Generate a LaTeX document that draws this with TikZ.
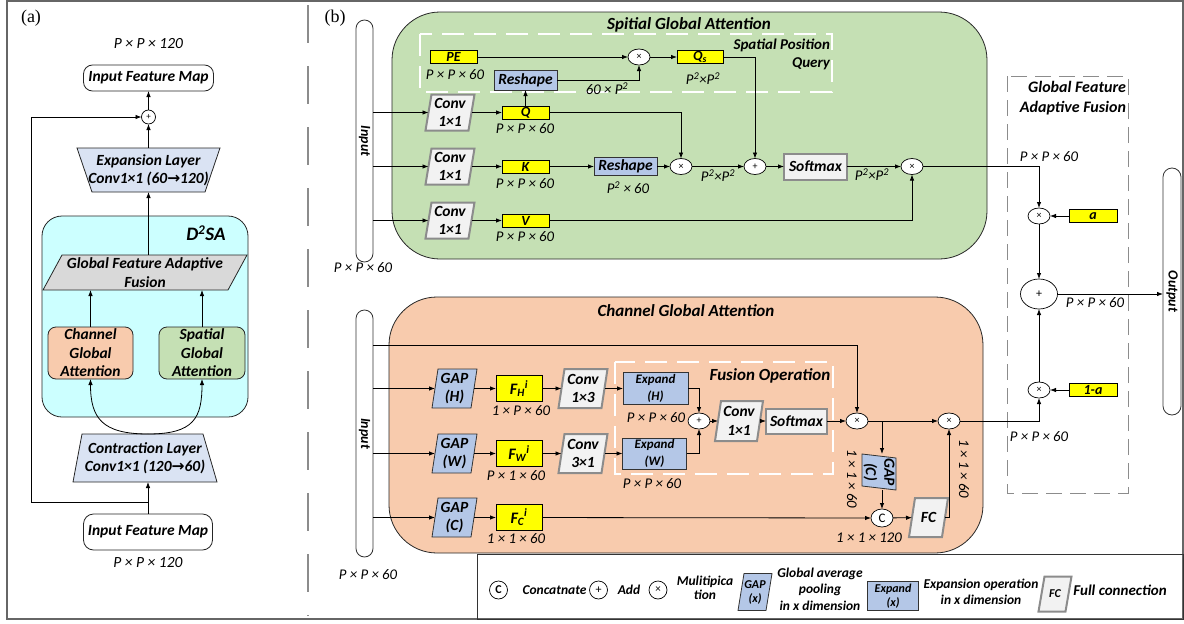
\documentclass[tikz,border=0pt]{standalone}
\usepackage{fontspec}
\setmainfont{Carlito}
\newfontfamily\tagfont{Liberation Serif}
\newfontfamily\arrowfont{DejaVu Sans}
\usetikzlibrary{arrows.meta,shapes.geometric}

\definecolor{sgagreen}{HTML}{C5E0B4}
\definecolor{cgaorange}{HTML}{F8CBAD}
\definecolor{opblue}{HTML}{B4C7E7}
\definecolor{dsacyan}{HTML}{CCFFFF}
\definecolor{layerblue}{HTML}{DAE3F3}
\definecolor{convgray}{HTML}{F2F2F2}
\definecolor{fusegray}{HTML}{D9D9D9}
\definecolor{rimgray}{HTML}{8C8C8C}
\definecolor{featyellow}{HTML}{FFFF00}

\newcommand{\ra}{{\arrowfont\bfseries →}}
\newcommand{\sq}{\textsuperscript{2}}

% slanted box: name, cx, cy, w, h, outline style, text style, text
\newcommand{\slantbox}[8]{%
  \draw[#6] ({#2-#4/2+3},{#3-#5/2}) -- ({#2+#4/2+3},{#3-#5/2})
     -- ({#2+#4/2-3},{#3+#5/2}) -- ({#2-#4/2-3},{#3+#5/2}) -- cycle;
  \node[#7, minimum width=#4pt, minimum height=#5pt] (#1) at (#2,#3) {#8};}

\tikzset{
  every node/.style={inner sep=0pt, outer sep=0pt},
  arr/.style={-{Latex[length=6pt,width=4.5pt]}, line width=0.8pt},
  dimlbl/.style={font=\fontsize{14.8}{15}\selectfont\itshape},
  boxtxt/.style={font=\fontsize{15.5}{18.5}\selectfont\bfseries\itshape, align=center},
  smalltxt/.style={font=\fontsize{13}{17}\selectfont\bfseries\itshape, align=center},
  titletxt/.style={font=\fontsize{17}{20}\selectfont\bfseries\itshape},
  legtxt/.style={font=\fontsize{13.5}{16.5}\selectfont\bfseries\itshape, align=center},
  legsmall/.style={font=\fontsize{12}{14}\selectfont\bfseries\itshape, align=center},
  featbox/.style={draw=black, fill=featyellow, line width=0.7pt, minimum width=47pt,
    minimum height=13pt, font=\fontsize{14}{14}\selectfont\bfseries\itshape},
  opbox/.style={draw=black!80, fill=opblue, line width=0.8pt, align=center},
  convline/.style={draw=rimgray, fill=convgray, line width=2pt},
  gapline/.style={draw=black!80, fill=opblue, line width=0.8pt},
  opnode/.style={draw=black, fill=white, ellipse, line width=0.7pt, minimum width=22pt,
    minimum height=16pt, font=\fontsize{10}{10}\selectfont},
  pill/.style={draw=black!80, fill=white, rounded corners=8.5pt, line width=0.8pt},
  softbox/.style={draw=rimgray, fill=convgray, line width=2pt,
    font=\fontsize{15.5}{17}\selectfont\bfseries\itshape},
  region/.style={draw=black!85, line width=0.8pt, rounded corners=48pt},
  whitedash/.style={white, line width=1.5pt, dash pattern=on 22pt off 10pt},
}

\begin{document}
\begin{tikzpicture}[x=1pt,y=-1pt]
\useasboundingbox (0,0) rectangle (1184,624);
% outer frame and panel separator
\draw[black!60, line width=1.5pt] (7,1) rectangle (1183,619);
\draw[black!45, line width=2pt, dash pattern=on 38pt off 23pt] (308,5) -- (308,616);
\node[font=\tagfont\fontsize{18}{18}\selectfont] (taga) at (31,18) {(a)};
\node[font=\tagfont\fontsize{18}{18}\selectfont] (tagb) at (335,18) {(b)};

% ================= panel (a) =================
\draw[fill=dsacyan, draw=black!85, line width=0.8pt, rounded corners=20pt] (42,216) rectangle (248,417);
\node[font=\fontsize{19}{20}\selectfont\bfseries\itshape] (dsa) at (206,233) {D\textsuperscript{2}SA};

\node[dimlbl, font=\fontsize{15.5}{16}\selectfont\itshape] (dimtop) at (148.5,44) {P × P × 120};
\node[draw=black!85, fill=white, rounded corners=9pt, line width=0.8pt, minimum width=130pt,
  minimum height=26pt, boxtxt] (ifmtop) at (148.5,78) {Input Feature Map};
\node[opnode, minimum width=14pt, minimum height=14pt, font=\fontsize{9}{9}\selectfont] (addtop) at (148.5,117) {+};

\draw[fill=layerblue, draw=black!85, line width=0.8pt] (77,148) -- (220,148) -- (205,192) -- (92,192) -- cycle;
\node[boxtxt, minimum width=128pt, minimum height=44pt] (expl) at (148.5,170) {Expansion Layer\\Conv1×1 (60\ra120)};

\draw[fill=fusegray, draw=black!85, line width=0.8pt] (62,255) -- (247,255) -- (228,290) -- (43,290) -- cycle;
\node[boxtxt, minimum width=166pt, minimum height=35pt] (gfaf) at (145,272.5) {Global Feature Adaptive\\Fusion};

\node[draw=black!85, fill=cgaorange, rounded corners=8pt, line width=0.8pt, minimum width=85pt,
  minimum height=52pt, boxtxt] (cgaA) at (90.5,353) {Channel\\Global\\Attention};
\node[draw=black!85, fill=sgagreen, rounded corners=8pt, line width=0.8pt, minimum width=86pt,
  minimum height=52pt, boxtxt] (sgaA) at (202,353) {Spatial\\Global\\Attention};

\draw[fill=layerblue, draw=black!85, line width=0.8pt] (82,434) -- (203,434) -- (217,482) -- (73,482) -- cycle;
\node[boxtxt, minimum width=121pt, minimum height=48pt] (ctrl) at (145,458) {Contraction Layer\\Conv1×1 (120\ra60)};

\node[draw=black!85, fill=white, rounded corners=10pt, line width=0.8pt, minimum width=129pt,
  minimum height=36pt, boxtxt] (ifmbot) at (148,532) {Input Feature Map};
\node[dimlbl, font=\fontsize{15.5}{16}\selectfont\itshape] (dimbot) at (148,563) {P × P × 120};

\coordinate (split) at (148,434);
\coordinate (skipfrom) at (148,502);
\coordinate (skipcorner) at (31,502);
\draw[arr] (ifmbot.north) -- (ifmbot.north |- ctrl.south);
\draw[arr] (skipfrom) -- (skipcorner) |- (addtop);
\draw[arr] (split) .. controls (102,434) and (90.5,418) .. (cgaA.south);
\draw[arr] (split) .. controls (194,434) and (202,418) .. (sgaA.south);
\draw[arr] (cgaA.north) -- (cgaA.north |- gfaf.south);
\draw[arr] (sgaA.north) -- (sgaA.north |- gfaf.south);
\draw[arr] (expl.south |- gfaf.north) -- (expl.south);
\draw[arr] (expl.north) -- (addtop);
\draw[arr] (addtop) -- (ifmtop);

% ================= panel (b) : spatial global attention =================
\draw[region, fill=sgagreen] (392,12) rectangle (987,259);
\draw[whitedash] (420,34) rectangle (832,92);
\node[titletxt] (sgatitle) at (689,25) {Spitial Global Attention};
\node[titletxt, font=\fontsize{15}{18}\selectfont\bfseries\itshape, align=right, anchor=north east] (spq) at (830,39) {Spatial Position\\Query};

\node[pill, minimum width=17pt, minimum height=242pt] (inTop) at (364.5,141) {};
\node[boxtxt, font=\fontsize{14}{14}\selectfont\bfseries\itshape, rotate=-90] (inTopTxt) at (364.5,141) {Input};
\node[dimlbl] (inTopDim) at (363,268) {P × P × 60};

\slantbox{cvq}{450}{112.5}{43}{36}{convline}{boxtxt}{Conv\\1×1}
\slantbox{cvk}{450}{166.5}{43}{36}{convline}{boxtxt}{Conv\\1×1}
\slantbox{cvv}{450}{220.5}{43}{36}{convline}{boxtxt}{Conv\\1×1}

\node[featbox] (fq) at (525.5,112.5) {Q};
\node[featbox] (fk) at (525.5,166.5) {K};
\node[featbox] (fv) at (525.5,220.5) {V};
\node[featbox] (pe) at (453.5,57) {PE};
\node[featbox, minimum width=46pt] (qs) at (700,57) {Q\textsubscript{s}};

\node[opbox, minimum width=63pt, minimum height=20pt, boxtxt] (rsq) at (525.5,80) {Reshape};
\node[opbox, minimum width=63pt, minimum height=18pt, boxtxt] (rsk) at (625.5,166.5) {Reshape};

\node[opnode] (mpe) at (639,57) {×};
\node[opnode] (mqk) at (681,166.5) {×};
\node[opnode] (addq) at (755,166.5) {+};
\node[softbox, minimum width=63pt, minimum height=26pt] (smx) at (815.5,166.5) {Softmax};
\node[opnode] (mv) at (912,166.5) {×};

\draw[arr] (inTop.east |- cvq) -- (cvq);
\draw[arr] (inTop.east |- cvk) -- (cvk);
\draw[arr] (inTop.east |- cvv) -- (cvv);
\draw[arr] (cvq) -- (fq);
\draw[arr] (cvk) -- (fk);
\draw[arr] (cvv) -- (fv);
\draw[arr] (fq) -- (rsq);
\draw[arr] (pe) -- (mpe);
\draw[arr] (rsq.east) -| (mpe);
\draw[arr] (mpe) -- (qs);
\draw[arr] (qs.east) -| (addq);
\draw[arr] (fq.east) -| (mqk);
\draw[arr] (fk) -- (rsk);
\draw[arr] (rsk) -- (mqk);
\draw[arr] (mqk) -- (addq);
\draw[arr] (addq) -- (smx);
\draw[arr] (smx) -- (mv);
\draw[arr] (fv.east) -| (mv);

\node[dimlbl] at (455,75) {P × P × 60};
\node[dimlbl] at (525,129) {P × P × 60};
\node[dimlbl] at (525,184) {P × P × 60};
\node[dimlbl] at (525,237) {P × P × 60};
\node[dimlbl] at (607,89) {60 × P\sq};
\node[dimlbl] at (703,79) {P\sq{}×P\sq};
\node[dimlbl] at (628,188) {P\sq{} × 60};
\node[dimlbl] at (718,176) {P\sq{}×P\sq};
\node[dimlbl] at (872,175) {P\sq{}×P\sq};

% ================= panel (b) : channel global attention =================
\draw[region, fill=cgaorange] (389,297) rectangle (983,553);
\draw[whitedash] (615,362) rectangle (833,474);
\node[titletxt] (cgatitle) at (686,311) {Channel Global Attention};
\node[titletxt] (fotitle) at (770,376) {Fusion Operation};

\node[pill, minimum width=17pt, minimum height=247pt] (inBot) at (364.5,433.5) {};
\node[boxtxt, font=\fontsize{14}{14}\selectfont\bfseries\itshape, rotate=-90] (inBotTxt) at (364.5,433.5) {Input};
\node[dimlbl] (inBotDim) at (368,575) {P × P × 60};

\slantbox{gaph}{454.5}{388.5}{39}{39}{gapline}{boxtxt}{GAP\\(H)}
\slantbox{gapw}{454.5}{453.5}{39}{39}{gapline}{boxtxt}{GAP\\(W)}
\slantbox{gapc}{454.5}{517.5}{39}{39}{gapline}{boxtxt}{GAP\\(C)}

\node[featbox, minimum width=46pt, minimum height=26pt, font=\fontsize{16}{16}\selectfont\bfseries\itshape] (fh) at (519,388.5) {F\textsubscript{H}\textsuperscript{i}};
\node[featbox, minimum width=46pt, minimum height=26pt, font=\fontsize{16}{16}\selectfont\bfseries\itshape] (fw) at (519,453.5) {F\textsubscript{W}\textsuperscript{i}};
\node[featbox, minimum width=46pt, minimum height=26pt, font=\fontsize{16}{16}\selectfont\bfseries\itshape] (fcf) at (519,517.5) {F\textsubscript{C}\textsuperscript{i}};

\slantbox{c13}{583}{388.5}{43}{39}{convline}{boxtxt}{Conv\\1×3}
\slantbox{c31}{583}{453.5}{43}{39}{convline}{boxtxt}{Conv\\3×1}

\node[opbox, minimum width=65pt, minimum height=32pt, smalltxt] (exh) at (655.5,388.5) {Expand\\(H)};
\node[opbox, minimum width=64pt, minimum height=31pt, smalltxt] (exw) at (654.5,453.5) {Expand\\(W)};
\node[opnode] (addc) at (699,421) {+};
\slantbox{c11}{739}{421}{42}{40}{convline}{boxtxt}{Conv\\1×1}
\node[softbox, minimum width=61pt, minimum height=25pt] (smc) at (796.5,421) {Softmax};
\node[opnode] (mca) at (857,421) {×};
\node[opnode] (mcb) at (949,421) {×};

% GAP(C) box standing on its side
\draw[gapline] (862,454) -- (896,458) -- (896,490) -- (862,486) -- cycle;
\node[minimum width=34pt, minimum height=36pt] (gapcv) at (879,472) {};
\node[boxtxt, rotate=-90] (gapcvtxt) at (879,472) {GAP\\(C)};

\node[opnode, minimum width=22pt, minimum height=18pt, font=\fontsize{13}{13}\selectfont] (cat) at (882,518) {C};
\slantbox{fcn}{928.5}{517.5}{33}{39}{convline}{boxtxt}{FC}

\coordinate (toprow) at (400,345);
\coordinate (brc) at (882,421);
\draw[arr] (inBot.east |- toprow) -| (mca);
\draw[arr] (inBot.east |- gaph) -- (gaph);
\draw[arr] (inBot.east |- gapw) -- (gapw);
\draw[arr] (inBot.east |- gapc) -- (gapc);
\draw[arr] (gaph) -- (fh);
\draw[arr] (gapw) -- (fw);
\draw[arr] (gapc) -- (fcf);
\draw[arr] (fh) -- (c13);
\draw[arr] (fw) -- (c31);
\draw[arr] (c13) -- (exh);
\draw[arr] (c31) -- (exw);
\draw[arr] (exh.east) -| (addc);
\draw[arr] (exw.east) -| (addc);
\draw[arr] (addc) -- (c11);
\draw[arr] (c11) -- (smc);
\draw[arr] (smc) -- (mca);
\draw[arr] (mca) -- (mcb);
\draw[arr] (brc) -- (brc |- gapcv.north);
\draw[arr] (brc |- gapcv.south) -- (cat);
\draw[arr] (fcf) -- (cat);
\draw[arr] (cat) -- (fcn);
\draw[arr] (fcn.east) -| (mcb);

\node[dimlbl] at (521,411) {1 × P × 60};
\node[dimlbl] at (516,476) {P × 1 × 60};
\node[dimlbl] at (516,539) {1 × 1 × 60};
\node[dimlbl] at (656,418) {P × P × 60};
\node[dimlbl] at (652,484) {P × P × 60};
\node[dimlbl] at (869,538) {1 × 1 × 120};
\node[dimlbl, rotate=-90] at (852,479) {1 × 1 × 60};
\node[dimlbl, rotate=-90] at (964,469) {1 × 1 × 60};

% ================= global feature adaptive fusion =================
\draw[black!45, line width=1pt, dash pattern=on 16pt off 8pt] (1007,76) rectangle (1128,493);
\node[titletxt, font=\fontsize{16}{20}\selectfont\bfseries\itshape, align=right, anchor=north east] (gfaftitle) at (1126,81) {Global Feature\\Adaptive Fusion};
\node[dimlbl] at (1049,157) {P × P × 60};
\node[opnode] (fmul1) at (1039,216) {×};
\node[featbox, minimum width=48pt] (alpha) at (1093,216) {a};
\node[opnode, minimum width=37pt, minimum height=30pt, font=\fontsize{12}{12}\selectfont] (fadd) at (1039,294) {+};
\node[opnode] (fmul2) at (1039,390) {×};
\node[featbox, minimum width=48pt] (oneminus) at (1093,390) {1-a};
\node[pill, minimum width=18pt, minimum height=247pt, rounded corners=9pt] (outp) at (1172,291.5) {};
\node[boxtxt, font=\fontsize{14}{14}\selectfont\bfseries\itshape, rotate=-90] (outptxt) at (1172,291.5) {Output};
\node[dimlbl] at (1095,303) {P × P × 60};
\node[dimlbl] at (1039,437) {P × P × 60};

\draw[arr] (mv) -| (fmul1);
\draw[arr] (mcb) -| (fmul2);
\draw[arr] (alpha) -- (fmul1);
\draw[arr] (oneminus) -- (fmul2);
\draw[arr] (fmul1) -- (fadd);
\draw[arr] (fmul2) -- (fadd);
\draw[arr] (fadd) -- (fadd -| outp.west);

% ================= legend =================
\draw[black!80, line width=0.8pt] (477,554.5) rectangle (1183,619);
\node[draw=black, fill=white, circle, minimum size=18pt, line width=0.7pt, font=\fontsize{12}{12}\selectfont\bfseries] (lgc) at (498.5,590) {C};
\node[legtxt] (lgct) at (554.5,590) {Concatnate};
\node[draw=black, fill=white, circle, minimum size=18pt, line width=0.7pt, font=\fontsize{12}{12}\selectfont] (lga) at (598.5,590) {+};
\node[legtxt] (lgat) at (629,590) {Add};
\node[draw=black, fill=white, circle, minimum size=18pt, line width=0.7pt, font=\fontsize{11}{11}\selectfont] (lgm) at (658,590) {×};
\node[legtxt, font=\fontsize{13.5}{14}\selectfont\bfseries\itshape] (lgmt) at (705,588) {Mulitipica\\tion};
\slantbox{lggap}{755}{592}{28}{37}{gapline}{legsmall}{GAP\\(x)}
\node[legtxt] (lggapt) at (820,589) {Global average\\pooling\\in x dimension};
\node[opbox, minimum width=51pt, minimum height=29pt, legsmall] (lgexp) at (893,596) {Expand\\(x)};
\node[legtxt] (lgexpt) at (981,592) {Expansion operation\\in x dimension};
\slantbox{lgfc}{1055}{594}{27}{35}{convline}{legsmall}{FC}
\node[legtxt, font=\fontsize{15}{16}\selectfont\bfseries\itshape] (lgfct) at (1120,590) {Full connection};
\end{tikzpicture}
\end{document}
